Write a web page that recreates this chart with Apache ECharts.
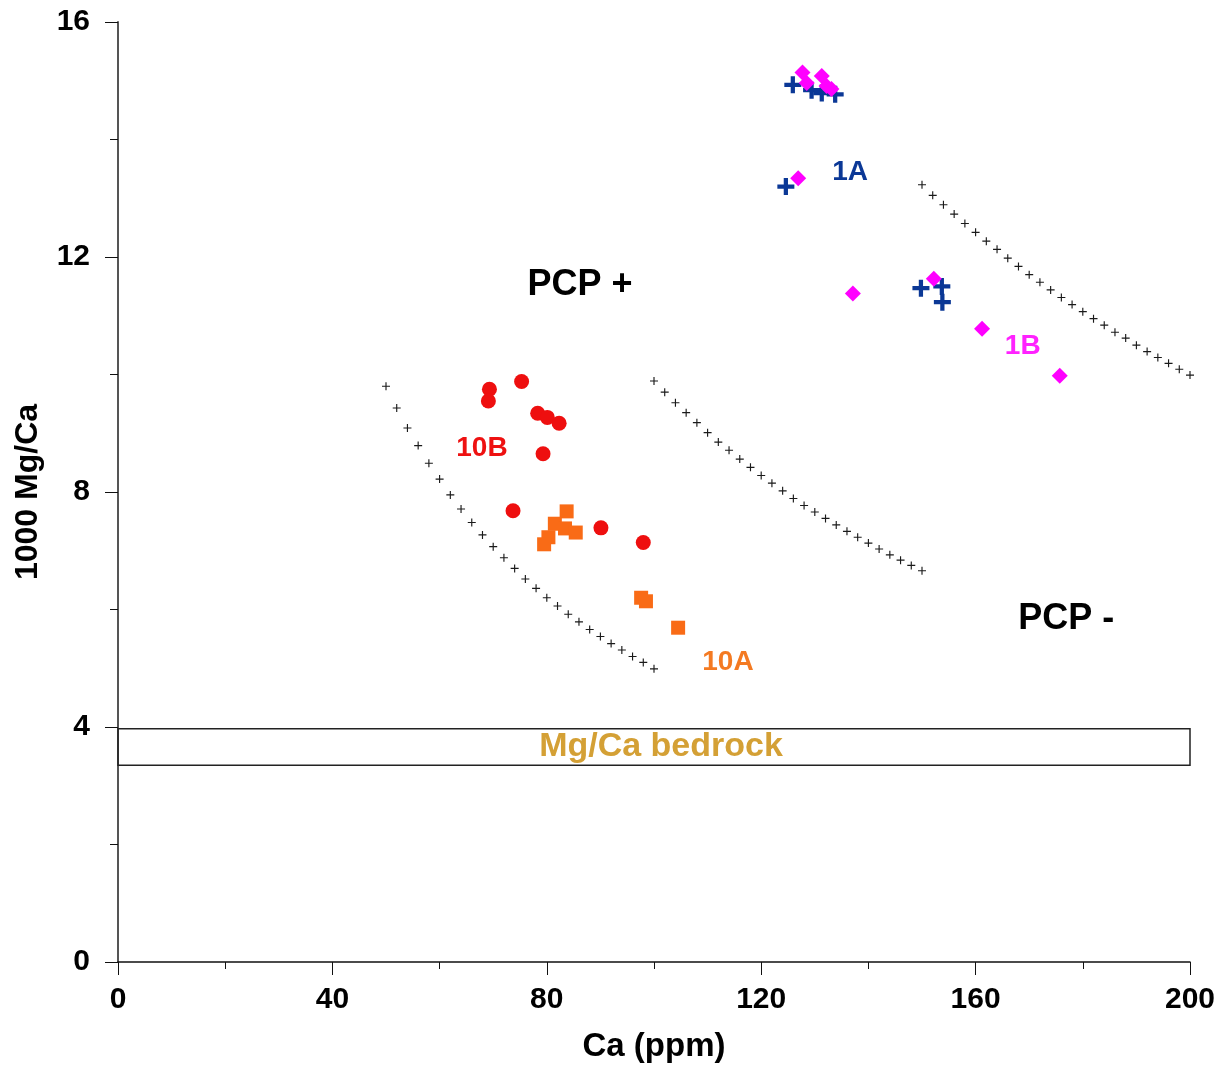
<!DOCTYPE html>
<html>
<head>
<meta charset="utf-8">
<script src="https://cdn.jsdelivr.net/npm/echarts@6/dist/echarts.min.js"></script>
<style>
html,body{margin:0;padding:0;background:#fff;}
#chart{width:1225px;height:1068px;}
</style>
</head>
<body>
<div id="chart"></div>
<script>
// ---- data ----
const xTicks = [0, 40, 80, 120, 160, 200];
const yTicks = [0, 4, 8, 12, 16];

// site 1A (blue crosses): [Ca ppm, 1000 Mg/Ca]
const s1A = [[125.9,14.93],[129.4,14.84],[131.3,14.79],[133.8,14.77],[124.6,13.2],[149.8,11.47],[153.7,11.5],[153.8,11.23]];
// site 1B (magenta diamonds)
const s1B = [[127.7,15.14],[128.5,14.96],[131.3,15.08],[132.2,14.91],[133.1,14.86],[126.9,13.34],[137.1,11.38],[152.2,11.63],[161.2,10.78],[175.7,9.98]];
// site 10B (red circles)
const s10B = [[69.3,9.75],[69.1,9.55],[75.3,9.88],[78.3,9.34],[80.1,9.27],[82.3,9.17],[79.3,8.65],[73.7,7.68],[90.1,7.39],[98.0,7.14]];
// site 10A (orange squares)
const s10A = [[83.7,7.67],[81.5,7.46],[83.4,7.38],[85.4,7.31],[80.3,7.23],[79.5,7.11],[97.6,6.20],[98.5,6.14],[104.5,5.69]];

// PCP reference curves (dotted crosses)
const curve1X = [50,52,54,56,58,60,62,64,66,68,70,72,74,76,78,80,82,84,86,88,90,92,94,96,98,100];
const curve1Y = [9.80,9.43,9.09,8.79,8.49,8.22,7.95,7.71,7.48,7.27,7.07,6.88,6.70,6.52,6.36,6.20,6.06,5.92,5.79,5.66,5.54,5.42,5.31,5.20,5.10,4.99];
const curve2X = [100,102,104,106,108,110,112,114,116,118,120,122,124,126,128,130,132,134,136,138,140,142,144,146,148,150];
const curve2Y = [9.89,9.70,9.52,9.35,9.18,9.01,8.85,8.71,8.56,8.42,8.28,8.15,8.02,7.89,7.77,7.66,7.55,7.44,7.33,7.23,7.13,7.03,6.93,6.84,6.75,6.66];
const curve3X = [150,152,154,156,158,160,162,164,166,168,170,172,174,176,178,180,182,184,186,188,190,192,194,196,198,200];
const curve3Y = [13.23,13.05,12.89,12.73,12.57,12.42,12.27,12.13,11.98,11.84,11.70,11.57,11.44,11.31,11.19,11.07,10.95,10.84,10.72,10.62,10.50,10.39,10.29,10.19,10.09,9.99];

// bedrock Mg/Ca band
const bedrockRange = [3.35, 3.97];
const bedrockText = 'Mg/Ca bedrock';

// annotation texts and anchor positions (data units)
const annText = ['PCP +', 'PCP -', '1A', '1B', '10B', '10A'];
const annPos = [[86.2,11.53],[176.9,5.83],[136.6,13.44],[168.8,10.48],[67.9,8.75],[113.8,5.10]];

// ---- styles ----
const FONT = '"Liberation Sans", Arial, sans-serif';
const annColor = ['#000000','#000000','#0b3896','#ff22ff','#ee1111','#f47a22'];
const annSize = [36, 36, 28, 28, 28, 28];

const zip = (xs, ys) => xs.map((x, i) => [x, ys[i]]);
const plusThick = 'path://M6,0h4v6h6v4h-6v6h-4v-6h-6v-4h6z';
const plusThin = 'path://M3,0h1v3h3v1h-3v3h-1v-3h-3v-1h3z';

const curveSeries = [zip(curve1X, curve1Y), zip(curve2X, curve2Y), zip(curve3X, curve3Y)].map(d => ({
  type: 'scatter', data: d, symbol: plusThin, symbolSize: 8,
  itemStyle: {color: '#1a1a1a', opacity: 1}, silent: true, z: 2
}));

const annSeries = annText.map((t, i) => ({
  type: 'scatter', data: [annPos[i]], symbolSize: 1,
  itemStyle: {color: 'rgba(0,0,0,0)', opacity: 1}, silent: true, z: 5,
  label: {show: true, position: 'inside', formatter: t, color: annColor[i], opacity: 1,
    fontFamily: FONT, fontWeight: 'bold', fontSize: annSize[i]}
}));

const chart = echarts.init(document.getElementById('chart'), null, {renderer: 'canvas'});
chart.setOption({
  backgroundColor: '#fff',
  animation: false,
  grid: {left: 118, right: 35, top: 22, bottom: 104, containLabel: false},
  xAxis: {
    type: 'value', min: 0, max: 200, interval: 40,
    name: 'Ca (ppm)', nameLocation: 'middle', nameGap: 68,
    nameTextStyle: {fontFamily: FONT, fontWeight: 'bold', fontSize: 33, color: '#000'},
    axisLine: {show: true, onZero: false, lineStyle: {color: '#111', width: 1.5}},
    axisTick: {show: true, inside: false, length: 13, lineStyle: {color: '#111', width: 1}},
    minorTick: {show: true, splitNumber: 2, length: 7, lineStyle: {color: '#111', width: 1}},
    axisLabel: {margin: 23, fontFamily: FONT, fontWeight: 'bold', fontSize: 30, color: '#000',
      formatter: v => xTicks.includes(v) ? String(v) : ''},
    splitLine: {show: false}, minorSplitLine: {show: false}
  },
  yAxis: {
    type: 'value', min: 0, max: 16, interval: 4,
    name: '1000 Mg/Ca', nameLocation: 'middle', nameGap: 74, nameRotate: 90,
    nameTextStyle: {fontFamily: FONT, fontWeight: 'bold', fontSize: 32, color: '#000'},
    axisLine: {show: true, onZero: false, lineStyle: {color: '#555', width: 2}},
    axisTick: {show: true, inside: false, length: 13, lineStyle: {color: '#111', width: 1}},
    minorTick: {show: true, splitNumber: 2, length: 8, lineStyle: {color: '#111', width: 1}},
    axisLabel: {margin: 28, fontFamily: FONT, fontWeight: 'bold', fontSize: 30, color: '#000',
      formatter: v => yTicks.includes(v) ? String(v) : ''},
    splitLine: {show: false}, minorSplitLine: {show: false}
  },
  series: [
    {
      type: 'scatter', data: [], silent: true, z: 1,
      markArea: {
        silent: true,
        itemStyle: {color: 'rgba(255,255,255,0)', borderColor: '#222', borderWidth: 1.5, opacity: 1},
        label: {show: true, position: 'inside', color: '#d4a035', fontFamily: FONT,
          fontWeight: 'bold', fontSize: 34, formatter: bedrockText, offset: [7, 0]},
        data: [[{xAxis: 0, yAxis: bedrockRange[0]}, {xAxis: 200, yAxis: bedrockRange[1]}]]
      }
    },
    ...curveSeries,
    {type: 'scatter', name: '10A', data: s10A, symbol: 'rect', symbolSize: 14,
      itemStyle: {color: '#f96b16', opacity: 1}, z: 3},
    {type: 'scatter', name: '10B', data: s10B, symbol: 'circle', symbolSize: 15,
      itemStyle: {color: '#ee0f0f', opacity: 1}, z: 3},
    {type: 'scatter', name: '1A', data: s1A, symbol: plusThick, symbolSize: 17,
      itemStyle: {color: '#0b3896', opacity: 1}, z: 3},
    {type: 'scatter', name: '1B', data: s1B, symbol: 'diamond', symbolSize: 16,
      itemStyle: {color: '#ff00ff', opacity: 1}, z: 4},
    ...annSeries
  ]
});
</script>
</body>
</html>
